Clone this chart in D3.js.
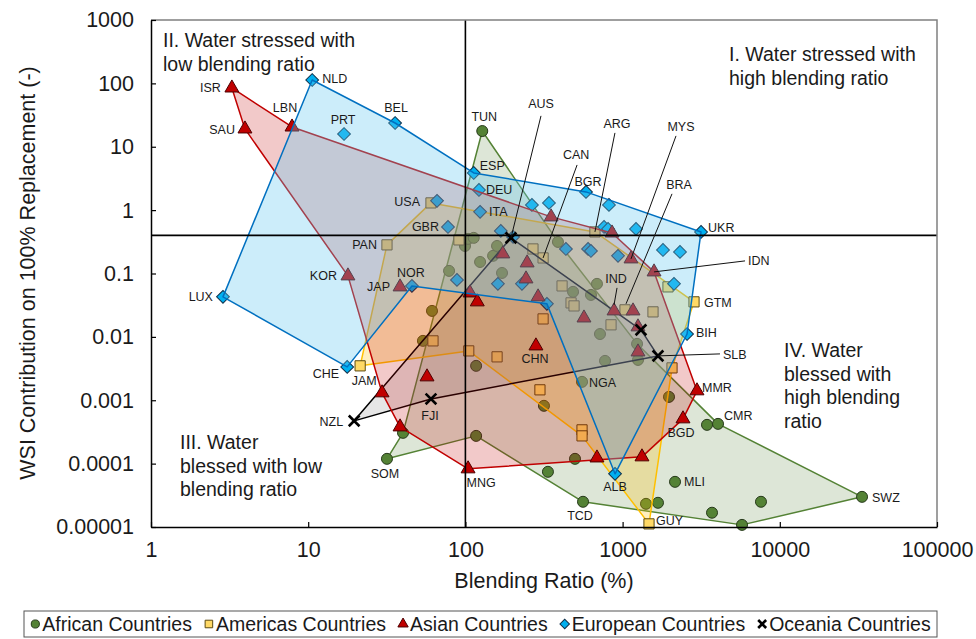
<!DOCTYPE html>
<html>
<head>
<meta charset="utf-8">
<script src="https://cdn.jsdelivr.net/npm/d3@7"></script>
<style>
body{margin:0;background:#fff;}
text{font-family:"Liberation Sans",Arial,sans-serif;fill:#1a1a1a;}
</style>
</head>
<body>
<svg id="chart" width="976" height="639"></svg>
<script>
// [code, blending ratio %, WSI contribution]
const africa = [
  ["TUN",128,17.7],["SOM",31.7,0.000119],["NGA",552,0.00195],["TCD",560,0.000025],["MLI",2155,0.0000516],
  ["SWZ",33350,0.0000299],["CMR",4046,0.000424],["",3443,0.000409],["",5750,0.0000108],["",7590,0.000025],
  ["",3705,0.0000168],["",1409,0.0000232],["",1679,0.0000241],["",335,0.0000743],["",498,0.000119],
  ["",117,0.000274],["",117,0.00349],["",316,0.000817],["",1973,0.00113],["",773,0.00418],
  ["",1253,0.00433],["",40.1,0.000306],["",61.3,0.0257],["",53.7,0.00865],["",78.7,0.110],
  ["",99.4,0.272],["",104,0.352],["",113,0.365],["",124,0.152],["",150,0.19],
  ["",159,0.272],["",171,0.102],["",388,0.315],["",484,0.0513],["",687,0.0686],
  ["",629,0.0459],["",718,0.0111],["",1236,0.00776]
];
const africaHull = [0,32,37,6,5,8,3,15,1,21];

const americas = [
  ["USA",60.4,1.30],["PAN",31.7,0.283],["JAM",21.4,0.00349],["GTM",2846,0.0357],["GUY",1472,0.0000112],
  ["ARG",667,0.453],["CAN",312,0.176],["BRA",1036,0.0267],["",91,0.339],["",269,0.244],
  ["",412,0.0637],["",470,0.0344],["",491,0.0308],["",312,0.0192],["",62.2,0.00865],
  ["",105,0.00601],["",159,0.00484],["",298,0.00146],["",552,0.000341],["",552,0.000274],
  ["",2062,0.00324],["",844,0.0155],["",1561,0.0248],["",1945,0.0615]
];
const americasHull = [0,5,3,20,4,19,15,2,1];

const asia = [
  ["ISR",3.27,84.6],["SAU",3.96,19.1],["LBN",7.89,20.5],["KOR",17.9,0.0917],["JAP",38.4,0.0615],
  ["CHN",281,0.00721],["MNG",104,0.0000828],["MMR",2973,0.00141],["BGD",2422,0.000509],["IND",882,0.0257],
  ["MYS",1131,0.170],["IDN",1585,0.106],["",351,0.782],["",857,0.436],["",1328,0.000128],
  ["",687,0.000123],["",29.5,0.00131],["",38.4,0.000380],["",57,0.00234],["",173,0.204],
  ["",247,0.147],["",243,0.0822],["",290,0.0428],["",107,0.0494],["",119,0.0357],
  ["",568,0.0199],["",1165,0.0257],["",1253,0.0144],["",1253,0.00579]
];
const asiaHull = [0,2,12,13,11,7,8,14,6,17,16,3,1];

const europe = [
  ["NLD",10.6,113],["BEL",35.7,23.7],["PRT",16.9,15.9],["LUX",2.87,0.0428],["CHE",17.7,0.00336],
  ["ESP",113,3.86],["DEU",122,2.08],["ITA",124,0.94],["",66,1.40],["GBR",77.5,0.543],
  ["NOR",45.7,0.0637],["UKR",3155,0.453],["BIH",2570,0.0111],["ALB",895,0.000069],["BGR",585,1.94],
  ["",265,1.21],["",340,1.30],["",819,1.21],["",1217,0.505],["",762,0.543],
  ["",808,0.505],["",168,0.47],["",201,0.378],["",436,0.244],["",603,0.244],
  ["",629,0.227],["",935,0.19],["",1807,0.235],["",2318,0.219],["",2123,0.0686],
  ["",88.4,0.0793],["",161,0.0686],["",229,0.0686],["",330,0.0332]
];
const europeHull = [0,1,5,14,11,12,13,33,10,4,3];

const oceania = [
  ["NZL",19.6,0.000473],["FJI",60.4,0.00105],["AUS",195,0.365],["SLB",1679,0.00501],["",1309,0.0129]
];
const oceaniaHull = [0,2,4,3,1];

const xTicks = [1,10,100,1000,10000,100000];
const xTickLabels = ["1","10","100","1000","10000","100000"];
const yTicks = [0.00001,0.0001,0.001,0.01,0.1,1,10,100,1000];
const yTickLabels = ["0.00001","0.0001","0.001","0.01","0.1","1","10","100","1000"];
const blendLine = 100;
const stressLine = 0.4;
const legendNames = ["African Countries","Americas Countries","Asian Countries","European Countries","Oceania Countries"];

// label offsets from the point: dx, dy, anchor, [leader start dx, dy, leader end dx, dy]
const labelPos = {
  ISR:[-11,0,'end'], SAU:[-10,1,'end'], LBN:[-7,-19,'middle'], NLD:[10,-1,'start'], BEL:[1,-15,'middle'],
  PRT:[-1,-14,'middle'], ESP:[6,-7,'start'], DEU:[7,0,'start'], ITA:[9,0,'start'], GBR:[-9,0,'end'],
  USA:[-11,-1,'end'], TUN:[2,-14,'middle'], BGR:[2,-10,'middle'], UKR:[7,-4,'start'], GTM:[10,1,'start'],
  BIH:[9,-1,'start'], PAN:[-10,0,'end'], KOR:[-11,0,'end'], JAP:[-10,0,'end'], NOR:[-1,-13,'middle'],
  LUX:[-10,0,'end'], CHE:[-8,7,'end'], JAM:[4,15,'middle'], NZL:[-11,1,'end'], FJI:[-1,17,'middle'],
  CHN:[-1,13,'middle'], NGA:[7,1,'start'], SOM:[-2,15,'middle'], MNG:[13,14,'middle'], ALB:[0,13,'middle'],
  TCD:[-3,14,'middle'], GUY:[7,-3,'start'], MLI:[9,0,'start'], SWZ:[10,1,'start'], CMR:[6,-8,'start'],
  MMR:[5,-3,'start'], BGD:[-2,14,'middle'],
  SLB:[65,-1,'start',62,-2,0,0], IDN:[94,-11,'start',91,-11,0,0], IND:[2,-32,'middle',3,-23,0,-6],
  AUS:[30,-134,'middle',30,-122,0,0], ARG:[22,-108,'middle',20,-99,0,0], CAN:[33,-103,'middle',34,-93,0,0],
  MYS:[50,-132,'middle',45,-123,0,0], BRA:[54,-125,'middle',47,-116,1,-6]
};

const plot = {left:151, right:937, top:20, bottom:527};
const svg = d3.select('#chart');

const xScale = d3.scaleLog().domain([1,100000]).range([plot.left, plot.right]);
const yScale = d3.scaleLog().domain([0.00001,1000]).range([plot.bottom, plot.top]);

const xMark = {draw(ctx, size){
  const r = Math.sqrt(size)/2;
  ctx.moveTo(-r,-r); ctx.lineTo(r,r);
  ctx.moveTo(r,-r); ctx.lineTo(-r,r);
}};

const styles = {
  africa:   {sym:d3.symbolCircle, size:95, fill:'#548235', stroke:'#26391a', line:'#548235', area:'#548235', op:0.2},
  americas: {sym:d3.symbolSquare, size:104, fill:'#ffd966', stroke:'#5c4a10', line:'#ffc000', area:'#ffc000', op:0.25},
  asia:     {sym:d3.symbolTriangle, size:84, fill:'#c00000', stroke:'#4d0000', line:'#c00000', area:'#c00000', op:0.21},
  europe:   {sym:d3.symbolSquare, size:82, fill:'#00b0f0', stroke:'#10304a', line:'#0070c0', area:'#64c8f0', op:0.33, rot:45},
  oceania:  {sym:xMark, size:115, fill:'none', stroke:'#000', line:'#000', area:'#808080', op:0.2, sw:2.6}
};

function drawHull(pts, order, st)
{
  const line = d3.line()
    .x(function(d){ return xScale(d[1]); })
    .y(function(d){ return yScale(d[2]); })
    .curve(d3.curveLinearClosed);
  svg.append('path')
    .datum(order.map(function(i){ return pts[i]; }))
    .attr('d', line)
    .attr('fill', st.area)
    .attr('fill-opacity', st.op)
    .attr('stroke', st.line)
    .attr('stroke-width', 1.5)
    .attr('stroke-linejoin', 'round');
}

function drawMarkers(pts, st)
{
  const sym = d3.symbol().type(st.sym).size(st.size);
  svg.append('g').selectAll('path')
    .data(pts)
    .enter()
    .append('path')
    .attr('d', sym)
    .attr('transform', function(d){
      return 'translate(' + xScale(d[1]) + ',' + yScale(d[2]) + ')' + (st.rot ? ' rotate(' + st.rot + ')' : '');
    })
    .attr('fill', st.fill)
    .attr('stroke', st.stroke)
    .attr('stroke-width', st.sw || 1);
}

function drawLabels(pts)
{
  pts.forEach(function(d){
    const p = labelPos[d[0]];
    if(!d[0] || !p) return;
    const x = xScale(d[1]), y = yScale(d[2]);
    if(p.length > 3){
      svg.append('line')
        .attr('x1', x + p[3]).attr('y1', y + p[4])
        .attr('x2', x + p[5]).attr('y2', y + p[6])
        .attr('stroke', '#111').attr('stroke-width', 1);
    }
    svg.append('text')
      .attr('x', x + p[0]).attr('y', y + p[1])
      .attr('text-anchor', p[2])
      .attr('dominant-baseline', 'central')
      .style('font-size', '12.5px')
      .text(d[0]);
  });
}

// layers, back to front
drawHull(africa, africaHull, styles.africa);
drawMarkers(africa, styles.africa);
drawHull(americas, americasHull, styles.americas);
drawMarkers(americas, styles.americas);
drawHull(oceania, oceaniaHull, styles.oceania);
drawMarkers(europe, styles.europe);
drawHull(asia, asiaHull, styles.asia);
drawMarkers(asia, styles.asia);
drawHull(europe, europeHull, styles.europe);
drawMarkers(oceania, styles.oceania);

// quadrant lines
svg.append('line')
  .attr('x1', xScale(blendLine)).attr('x2', xScale(blendLine))
  .attr('y1', plot.top).attr('y2', plot.bottom)
  .attr('stroke', '#000').attr('stroke-width', 1.6);
svg.append('line')
  .attr('x1', plot.left).attr('x2', plot.right)
  .attr('y1', yScale(stressLine)).attr('y2', yScale(stressLine))
  .attr('stroke', '#000').attr('stroke-width', 1.6);

// frame
svg.append('path')
  .attr('d', 'M' + plot.left + ',' + plot.top + 'H' + plot.right + 'V' + plot.bottom)
  .attr('fill', 'none').attr('stroke', '#808080').attr('stroke-width', 1.5);

const xAxis = svg.append('g')
  .attr('transform', 'translate(0,' + plot.bottom + ')')
  .call(d3.axisBottom(xScale).tickValues(xTicks)
    .tickFormat(function(d,i){ return xTickLabels[i]; })
    .tickSizeInner(-5).tickSizeOuter(0).tickPadding(15));
const yAxis = svg.append('g')
  .attr('transform', 'translate(' + plot.left + ',0)')
  .call(d3.axisLeft(yScale).tickValues(yTicks)
    .tickFormat(function(d,i){ return yTickLabels[i]; })
    .tickSizeInner(-5).tickSizeOuter(0).tickPadding(17));
[xAxis, yAxis].forEach(function(g){
  g.select('.domain').attr('stroke', '#000').attr('stroke-width', 1.5);
  g.selectAll('.tick line').attr('stroke', '#000').attr('stroke-width', 1.2);
  g.selectAll('.tick text').style('font-size', '21.5px').attr('fill', '#1a1a1a')
    .style('font-family', '"Liberation Sans",Arial,sans-serif');
});

drawLabels(africa);
drawLabels(americas);
drawLabels(asia);
drawLabels(europe);
drawLabels(oceania);

// quadrant notes
function note(x, y, lines)
{
  const t = svg.append('text').attr('x', x).attr('y', y).style('font-size', '19.5px');
  lines.forEach(function(s, i){
    t.append('tspan').attr('x', x).attr('dy', i ? 23.5 : 0).text(s);
  });
}
note(163, 47, ["II. Water stressed with", "low blending ratio"]);
note(729, 61, ["I. Water stressed with", "high blending ratio"]);
note(180, 449, ["III. Water", "blessed with low", "blending ratio"]);
note(784, 357, ["IV. Water", "blessed with", "high blending", "ratio"]);

// axis titles
svg.append('text')
  .attr('x', (plot.left + plot.right) / 2).attr('y', 588)
  .attr('text-anchor', 'middle').style('font-size', '21.5px')
  .text('Blending Ratio (%)');
svg.append('text')
  .attr('transform', 'translate(35,' + 273 + ') rotate(-90)')
  .attr('text-anchor', 'middle').style('font-size', '21.5px')
  .text('WSI Contribution on 100% Replacement (-)');

// legend
const legendBox = {x:24, y:611, w:913, h:26};
svg.append('rect')
  .attr('x', legendBox.x).attr('y', legendBox.y)
  .attr('width', legendBox.w).attr('height', legendBox.h)
  .attr('fill', '#fff').attr('stroke', '#555').attr('stroke-width', 1);
const legendStyles = [styles.africa, styles.americas, styles.asia, styles.europe, styles.oceania];
const legendItems = svg.append('g');
let lx = 0;
const ly = legendBox.y + legendBox.h / 2;
legendNames.forEach(function(name, i){
  const st = legendStyles[i];
  const small = d3.symbol().type(st.sym).size(st.size * 0.55);
  legendItems.append('path')
    .attr('d', small)
    .attr('transform', 'translate(' + (lx + 5) + ',' + ly + ')' + (st.rot ? ' rotate(' + st.rot + ')' : ''))
    .attr('fill', st.fill).attr('stroke', st.stroke).attr('stroke-width', st.sw || 1);
  const t = legendItems.append('text')
    .attr('x', lx + 12).attr('y', ly)
    .attr('dominant-baseline', 'central')
    .style('font-size', '19.5px')
    .text(name);
  lx += 12 + t.node().getComputedTextLength() + 12;
});
const legendWidth = lx - 12;
legendItems.attr('transform', 'translate(' + (legendBox.x + (legendBox.w - legendWidth) / 2) + ',0)');
</script>
</body>
</html>
